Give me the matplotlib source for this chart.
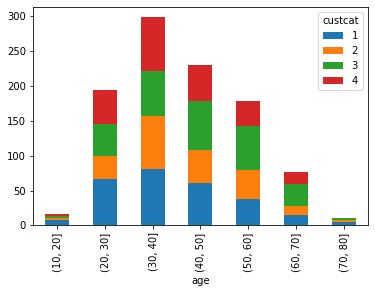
import pandas as pd
import matplotlib
matplotlib.use("Agg")
import matplotlib.pyplot as plt

age = ["(10, 20]", "(20, 30]", "(30, 40]", "(40, 50]", "(50, 60]", "(60, 70]", "(70, 80]"]
cat1 = [8, 66, 81, 61, 38, 15, 5]
cat2 = [3, 34, 76, 47, 42, 13, 3]
cat3 = [3, 46, 64, 71, 63, 32, 3]
cat4 = [2, 48, 78, 51, 36, 17, 0]

df = pd.DataFrame({1: cat1, 2: cat2, 3: cat3, 4: cat4}, index=pd.Index(age, name="age"))
df.columns.name = "custcat"

fig = plt.figure(figsize=(375 / 72, 292 / 72), dpi=72)
ax = fig.add_subplot(1, 1, 1)
df.plot(kind="bar", stacked=True, ax=ax)
fig.subplots_adjust(left=0.088, right=0.981, bottom=0.228, top=0.977)
fig.savefig("out.png", dpi=72)
